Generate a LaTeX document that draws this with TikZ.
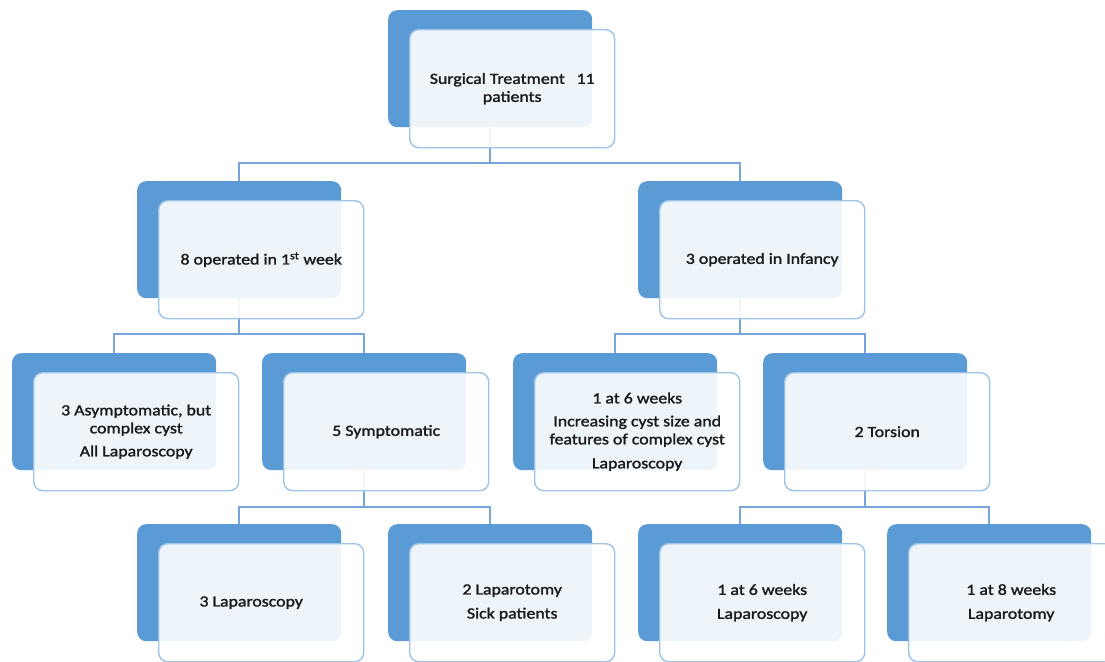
\documentclass[tikz,border=0pt]{standalone}
\usepackage{fontspec}
\setmainfont{Carlito}[FakeStretch=1.15,FakeBold=1.6]
\definecolor{backblue}{HTML}{5B9BD5}
\definecolor{frontline}{HTML}{9DC3E6}
\definecolor{connblue}{HTML}{78A5DA}
\definecolor{txt}{HTML}{1A1A1A}
\tikzset{
  backbox/.style={anchor=north west, fill=backblue, draw=none, rounded corners=9pt,
    minimum width=204pt, minimum height=117pt, inner sep=0pt},
  frontbox/.style={anchor=north west, fill=white, fill opacity=0.9, text opacity=1,
    draw=frontline, line width=1.4pt, rounded corners=9pt,
    minimum width=205pt, minimum height=118pt, inner sep=2pt, align=center,
    text=txt, font=\fontsize{15.5}{18}\selectfont},
  anchorbox/.style={anchor=north west, draw=none, fill=none,
    minimum width=204pt, minimum height=117pt, inner sep=0pt},
  conn/.style={draw=connblue, line width=1.6pt}
}
\newcommand\orgunit[4]{%
  \node[backbox] (b#1) at (#2,#3) {};
  \node[frontbox] (f#1) at (#2+21,#3+19) {#4};
}
\begin{document}
\begin{tikzpicture}[x=1pt,y=-1pt]
\useasboundingbox (0,0) rectangle (1105,661);
% placement frames (same as back boxes) so connectors can be drawn behind
\node[anchorbox] (p1) at (388,10) {};
\node[anchorbox] (p2a) at (137,181) {};
\node[anchorbox] (p2b) at (638,181) {};
\node[anchorbox] (p3a) at (12,353) {};
\node[anchorbox] (p3b) at (262,353) {};
\node[anchorbox] (p3c) at (513,353) {};
\node[anchorbox] (p3d) at (763,353) {};
\node[anchorbox] (p4a) at (137,524) {};
\node[anchorbox] (p4b) at (388,524) {};
\node[anchorbox] (p4c) at (638,524) {};
\node[anchorbox] (p4d) at (887,524) {};
% connectors
\draw[conn] (p1.south) |- ([yshift=18pt]p2a.north) -- (p2a.north);
\draw[conn] (p1.south) |- ([yshift=18pt]p2b.north) -- (p2b.north);
\draw[conn] (p2a.south) |- ([yshift=19pt]p3a.north) -- (p3a.north);
\draw[conn] (p2a.south) |- ([yshift=19pt]p3b.north) -- (p3b.north);
\draw[conn] (p2b.south) |- ([yshift=19pt]p3c.north) -- (p3c.north);
\draw[conn] (p2b.south) |- ([yshift=19pt]p3d.north) -- (p3d.north);
\draw[conn] (p3b.south) |- ([yshift=17pt]p4a.north) -- (p4a.north);
\draw[conn] (p3b.south) |- ([yshift=17pt]p4b.north) -- (p4b.north);
\draw[conn] (p3d.south) |- ([yshift=17pt]p4c.north) -- (p4c.north);
\draw[conn] (p3d.south) |- ([yshift=17pt]p4d.north) -- (p4d.north);
% boxes
\orgunit{1}{388}{10}{Surgical Treatment\hspace{0.75em}11\\ patients}
\orgunit{2a}{137}{181}{8 operated in 1\textsuperscript{st} week}
\orgunit{2b}{638}{181}{3 operated in Infancy}
\orgunit{3a}{12}{353}{3 Asymptomatic, but\\ complex cyst\\[5pt] All Laparoscopy}
\orgunit{3b}{262}{353}{5 Symptomatic}
\orgunit{3c}{513}{353}{1 at 6 weeks\\[5pt] Increasing cyst size and\\ features of complex cyst\\[6pt] Laparoscopy}
\orgunit{3d}{763}{353}{2 Torsion}
\orgunit{4a}{137}{524}{3 Laparoscopy\hspace*{20pt}}
\orgunit{4b}{388}{524}{2 Laparotomy\\[6pt] Sick patients}
\orgunit{4c}{638}{524}{1 at 6 weeks\\[6pt] Laparoscopy}
\orgunit{4d}{887}{524}{1 at 8 weeks\\[6pt] Laparotomy}
\end{tikzpicture}
\end{document}
